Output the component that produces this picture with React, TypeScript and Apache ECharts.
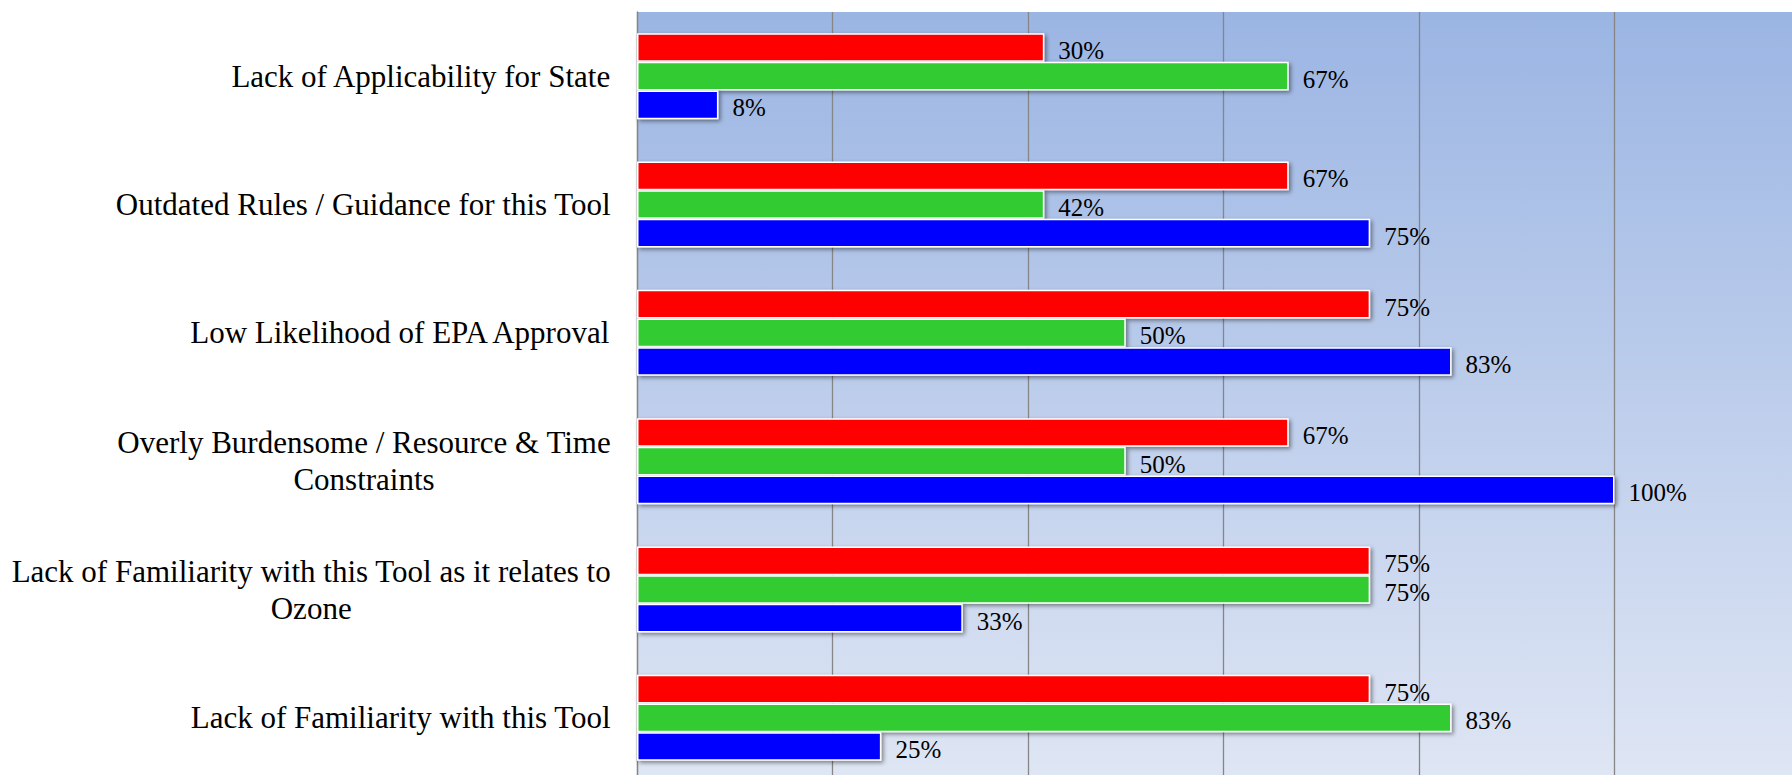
import React, { useEffect, useRef } from "react";
import * as echarts from "echarts";

const categories = [
  "Lack of Applicability for State",
  "Outdated Rules / Guidance for this Tool",
  "Low Likelihood of EPA Approval",
  "Overly Burdensome / Resource & Time\nConstraints",
  "Lack of Familiarity with this Tool as it relates to\nOzone",
  "Lack of Familiarity with this Tool",
];

const redValues = [41.67, 66.67, 75, 66.67, 75, 75];
const redLabels = ["30%", "67%", "75%", "67%", "75%", "75%"];
const greenValues = [66.67, 41.67, 50, 50, 75, 83.33];
const greenLabels = ["67%", "42%", "50%", "50%", "75%", "83%"];
const blueValues = [8.33, 75, 83.33, 100, 33.33, 25];
const blueLabels = ["8%", "75%", "83%", "100%", "33%", "25%"];

const FONT = "'Liberation Serif', 'Times New Roman', serif";

export default function App() {
  const ref = useRef<HTMLDivElement>(null);

  useEffect(() => {
    if (!ref.current) return;
    const chart = echarts.init(ref.current, undefined, { renderer: "svg" });

    const makeSeries = (name: string, color: string, values: number[], labels: string[]) => ({
      name,
      type: "bar",
      data: values,
      barGap: "0%",
      barCategoryGap: "33%",
      itemStyle: {
        color,
        borderColor: "#ffffff",
        borderWidth: 1.5,
        shadowColor: "rgba(0,0,0,0.45)",
        shadowBlur: 4,
        shadowOffsetX: 2,
        shadowOffsetY: 2,
      },
      label: {
        show: true,
        position: "right",
        distance: 14,
        offset: [0, 3],
        color: "#000000",
        fontFamily: FONT,
        fontSize: 25,
        formatter: (p: any) => labels[p.dataIndex],
      },
    });

    chart.setOption({
      animation: false,
      grid: {
        left: 637,
        top: 12,
        right: 0,
        bottom: 0,
        show: true,
        borderWidth: 0,
        backgroundColor: new echarts.graphic.LinearGradient(0, 0, 0, 1, [
          { offset: 0, color: "#9BB5E3" },
          { offset: 1, color: "#DFE6F4" },
        ]),
      },
      xAxis: {
        type: "value",
        min: 0,
        max: 120,
        interval: 20,
        axisLabel: { show: false },
        axisLine: { show: false },
        axisTick: { show: false },
        splitLine: { show: true, lineStyle: { color: "#868686", width: 1.3 } },
      },
      yAxis: {
        type: "category",
        inverse: true,
        data: categories,
        axisTick: { show: false },
        axisLine: { show: true, lineStyle: { color: "#868686", width: 1.3 } },
        axisLabel: {
          margin: 26,
          color: "#000000",
          fontFamily: FONT,
          fontSize: 31,
          lineHeight: 37,
          formatter: (v: string) =>
            v
              .split("\n")
              .map((l) => `{c|${l}}`)
              .join("\n"),
          rich: {
            c: {
              align: "center",
              color: "#000000",
              fontFamily: FONT,
              fontSize: 31,
              lineHeight: 37,
            },
          },
        },
      },
      series: [
        makeSeries("Red", "#FF0000", redValues, redLabels),
        makeSeries("Green", "#33CC33", greenValues, greenLabels),
        makeSeries("Blue", "#0000FF", blueValues, blueLabels),
      ],
    });

    return () => chart.dispose();
  }, []);

  return (
    <div
      style={{
        position: "absolute",
        left: 0,
        top: 0,
        width: 1792,
        height: 775,
        overflow: "hidden",
      }}
    >
      <div ref={ref} style={{ width: 1810, height: 782 }} />
    </div>
  );
}
